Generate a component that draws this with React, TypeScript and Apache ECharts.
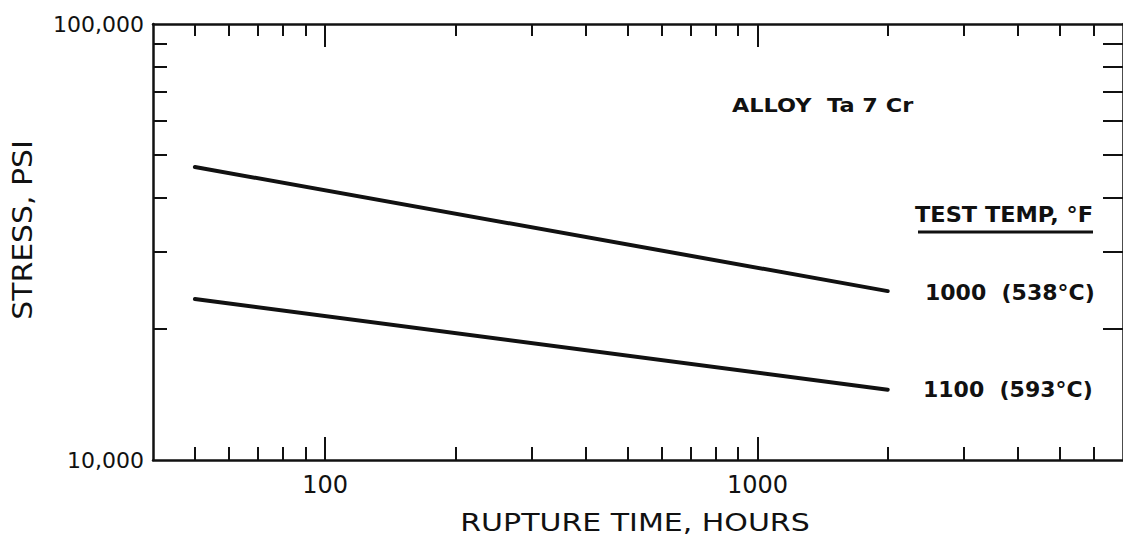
import React, { useEffect, useRef } from "react";
import * as echarts from "echarts";

// ---- data ----
const xMajorTicks = [100, 1000];
const xMinorTicks = [50, 60, 70, 80, 90, 200, 300, 400, 500, 600, 700, 800, 900, 2000, 3000, 4000, 5000, 6000];
const yTicks = [20000, 30000, 40000, 50000, 60000, 70000, 80000, 90000];
const yLabels = [10000, 100000];
const hours = [50, 2000];
const stress1000F = [47000, 24400];
const stress1100F = [23400, 14500];

const FONT = "DejaVu Sans";
const INK = "#111";

export default function App() {
  const ref = useRef<HTMLDivElement>(null);
  useEffect(() => {
    if (!ref.current) return;
    const chart = echarts.init(ref.current, undefined, { renderer: "svg" });
    const xBase = {
      type: "log",
      min: 40,
      max: 7000,
      logBase: 10,
      gridIndex: 0,
      splitLine: { show: false },
      minorTick: { show: false },
      axisLine: { show: false, onZero: false },
      axisLabel: { show: false },
    };
    const tick = (vals: number[], len: number) => ({
      show: true,
      inside: true,
      length: len,
      customValues: vals,
      lineStyle: { color: INK, width: 2 },
    });
    const yBase = {
      type: "log",
      min: 10000,
      max: 100000,
      logBase: 10,
      gridIndex: 0,
      splitLine: { show: false },
      minorTick: { show: false },
      axisLabel: { show: false },
    };
    chart.setOption({
      animation: false,
      backgroundColor: "#fff",
      grid: { left: 153, top: 24, right: -10, bottom: 78, containLabel: false },
      xAxis: [
        {
          ...xBase,
          position: "bottom",
          axisLine: { show: true, onZero: false, lineStyle: { color: INK, width: 2.5 } },
          axisTick: tick(xMajorTicks, 23),
          axisLabel: {
            show: true,
            customValues: xMajorTicks,
            margin: 13,
            fontFamily: FONT,
            fontSize: 24,
            color: INK,
            formatter: (v: number) => String(Math.round(v)),
          },
        },
        { ...xBase, position: "bottom", axisTick: tick(xMinorTicks, 13) },
        {
          ...xBase,
          position: "top",
          axisLine: { show: true, onZero: false, lineStyle: { color: INK, width: 2.5 } },
          axisTick: tick(xMajorTicks, 23),
        },
        { ...xBase, position: "top", axisTick: tick(xMinorTicks, 12) },
      ],
      yAxis: [
        {
          ...yBase,
          position: "left",
          axisLine: { show: true, onZero: false, lineStyle: { color: INK, width: 2.5 } },
          axisTick: tick(yTicks, 14),
          axisLabel: {
            show: true,
            customValues: yLabels,
            margin: 9,
            fontFamily: FONT,
            fontSize: 22,
            color: INK,
            formatter: (v: number) => Math.round(v).toLocaleString("en-US"),
          },
        },
        {
          ...yBase,
          position: "right",
          axisLine: { show: true, onZero: false, lineStyle: { color: INK, width: 2.5 } },
          axisTick: tick(yTicks, 20),
        },
      ],
      series: [
        {
          name: "1000 (538°C)",
          type: "line",
          xAxisIndex: 0,
          yAxisIndex: 0,
          showSymbol: false,
          lineStyle: { color: INK, width: 4, cap: "round" },
          data: hours.map((h, i) => [h, stress1000F[i]]),
        },
        {
          name: "1100 (593°C)",
          type: "line",
          xAxisIndex: 0,
          yAxisIndex: 0,
          showSymbol: false,
          lineStyle: { color: INK, width: 4, cap: "round" },
          data: hours.map((h, i) => [h, stress1100F[i]]),
        },
      ],
      graphic: [
        {
          type: "text",
          x: 635,
          y: 523,
          scaleX: 1.25,
          style: { text: "RUPTURE TIME, HOURS", font: `24px "${FONT}"`, fill: INK, textAlign: "center", textVerticalAlign: "middle" },
        },
        {
          type: "text",
          x: 23,
          y: 230,
          rotation: Math.PI / 2,
          scaleX: 1.15,
          style: { text: "STRESS, PSI", font: `26px "${FONT}"`, fill: INK, textAlign: "center", textVerticalAlign: "middle" },
        },
        {
          type: "text",
          x: 732,
          y: 105,
          scaleX: 1.12,
          style: { text: "ALLOY  Ta 7 Cr", font: `bold 20px "${FONT}"`, fill: INK, textAlign: "left", textVerticalAlign: "middle" },
        },
        {
          type: "text",
          x: 915,
          y: 214,
          scaleX: 1.02,
          style: { text: "TEST TEMP, °F", font: `bold 22px "${FONT}"`, fill: INK, textAlign: "left", textVerticalAlign: "middle" },
        },
        {
          type: "line",
          shape: { x1: 918, y1: 232, x2: 1093, y2: 232 },
          style: { stroke: INK, lineWidth: 3 },
        },
        {
          type: "text",
          x: 925,
          y: 292,
          scaleX: 1.0,
          style: { text: "1000  (538°C)", font: `bold 22px "${FONT}"`, fill: INK, textAlign: "left", textVerticalAlign: "middle" },
        },
        {
          type: "text",
          x: 923,
          y: 389,
          scaleX: 1.0,
          style: { text: "1100  (593°C)", font: `bold 22px "${FONT}"`, fill: INK, textAlign: "left", textVerticalAlign: "middle" },
        },
      ],
    });
    return () => chart.dispose();
  }, []);
  return (
    <div
      ref={ref}
      style={{ position: "fixed", left: 0, top: 0, width: 1123, height: 538, background: "#fff" }}
    />
  );
}
